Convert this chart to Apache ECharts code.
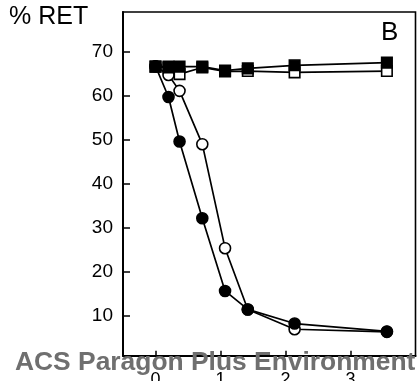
<!DOCTYPE html>
<html>
<head>
<meta charset="utf-8">
<script src="https://cdn.jsdelivr.net/npm/echarts@6/dist/echarts.min.js"></script>
<style>
  html, body { margin: 0; padding: 0; background: #fff; }
  #chart { width: 418px; height: 381px; }
</style>
</head>
<body>
<div id="chart"></div>
<script>
var FONT = '"Liberation Sans", Arial, sans-serif';

// concentration (x) for every series
var xVals = [0, 0.2, 0.37, 0.72, 1.07, 1.42, 2.14, 3.56];

var filledCircle = [66.7, 59.7, 49.6, 32.2, 15.7, 11.5, 8.3, 6.5];
var openCircle   = [66.7, 64.7, 61.1, 49.0, 25.4, 11.5, 7.0, 6.4];
var filledSquare = [66.6, 66.6, 66.6, 66.6, 65.7, 66.2, 66.9, 67.5];
var openSquare   = [66.6, 66.4, 64.9, 66.4, 65.5, 65.6, 65.3, 65.6];

var xTicks = [0, 1, 2, 3];
var yTicks = [10, 20, 30, 40, 50, 60, 70];

function pairs(ys) {
    return xVals.map(function(x, i) { return [x, ys[i]]; });
}

function mkSeries(name, ys, symbol, filled, size) {
    return {
        name: name,
        type: 'line',
        data: pairs(ys),
        symbol: symbol,
        symbolSize: size,
        showAllSymbol: true,
        lineStyle: { color: '#000', width: 1.7 },
        itemStyle: {
            color: filled ? '#000' : '#fff',
            borderColor: '#000',
            borderWidth: 1.6
        },
        emphasis: { disabled: true },
        animation: false
    };
}

var chart = echarts.init(document.getElementById('chart'));

var option = {
    backgroundColor: '#fff',
    animation: false,
    grid: {
        left: 123, top: 12, right: 2.5, bottom: 25.3,
        outerBoundsMode: 'none',
        show: true,
        borderColor: '#000',
        borderWidth: 1.6
    },
    xAxis: {
        type: 'value',
        min: -0.5,
        max: 4,
        axisLine: { onZero: false, lineStyle: { color: '#000', width: 2 } },
        axisTick: { customValues: xTicks, inside: true, length: 5, lineStyle: { color: '#000', width: 1.5 } },
        axisLabel: { customValues: xTicks, margin: 15, color: '#000', fontSize: 18, fontFamily: FONT },
        splitLine: { show: false }
    },
    yAxis: {
        type: 'value',
        min: 1,
        max: 79,
        axisLine: { show: true, onZero: false, lineStyle: { color: '#000', width: 2 } },
        axisTick: { show: true, customValues: yTicks, inside: true, length: 7, lineStyle: { color: '#000', width: 1.5 } },
        axisLabel: { customValues: yTicks, margin: 10, color: '#000', fontSize: 19, fontFamily: FONT },
        splitLine: { show: false }
    },
    series: [
        mkSeries('open circle', openCircle, 'circle', false, 11),
        mkSeries('filled circle', filledCircle, 'circle', true, 11),
        mkSeries('open square', openSquare, 'rect', false, 10.5),
        mkSeries('filled square', filledSquare, 'rect', true, 10.5)
    ],
    graphic: [
        {
            type: 'text', left: 9, top: 5,
            style: { text: '% RET', fill: '#000', fontSize: 25, fontFamily: FONT }
        },
        {
            type: 'text', left: 381, top: 20,
            style: { text: 'B', fill: '#000', fontSize: 26, fontFamily: FONT }
        },
        {
            type: 'text', left: 15, top: 350, z: 100,
            style: { text: 'ACS Paragon Plus Environment', fill: '#6f6f6f', fontSize: 26.4, fontWeight: 'bold', fontFamily: FONT }
        }
    ]
};

chart.setOption(option);
</script>
</body>
</html>
